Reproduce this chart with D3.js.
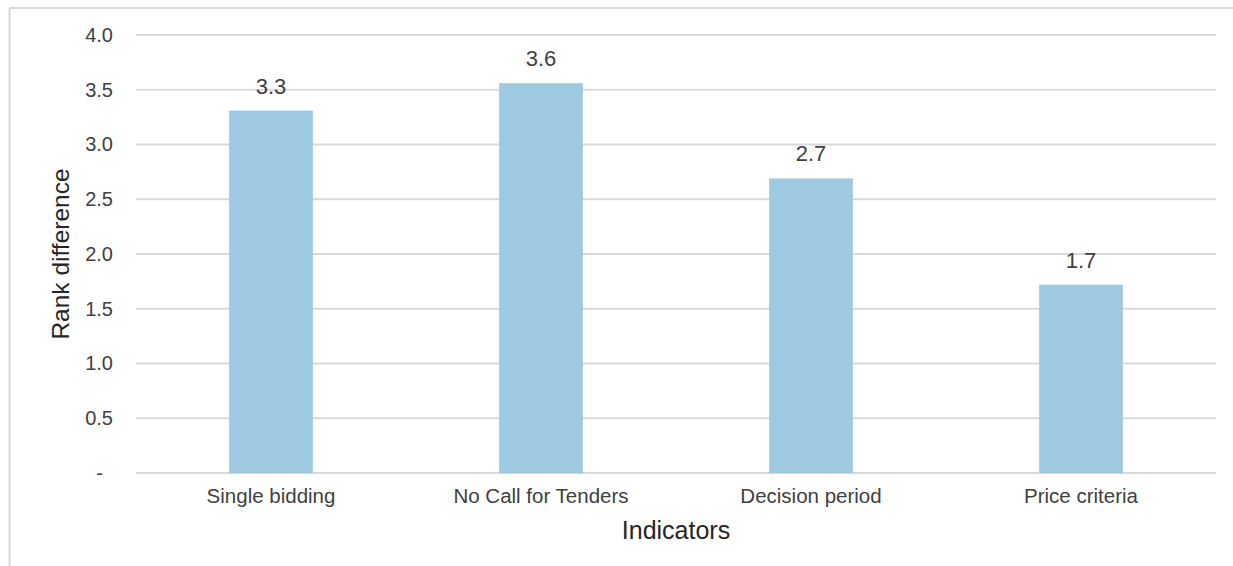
<!DOCTYPE html>
<html>
<head>
<meta charset="utf-8">
<script src="https://cdn.jsdelivr.net/npm/d3@7"></script>
<style>
  html, body { margin: 0; padding: 0; background: #fff; }
  svg { display: block; font-family: "Liberation Sans", Arial, sans-serif; }
</style>
</head>
<body>
<svg id="chart" width="1233" height="566"></svg>
<script>
// Indicators and their rank differences
const categories = ["Single bidding", "No Call for Tenders", "Decision period", "Price criteria"];
const values = [3.31, 3.56, 2.69, 1.72];
const yTicks = [0, 0.5, 1.0, 1.5, 2.0, 2.5, 3.0, 3.5, 4.0];
const yTickLabels = ["-", "0.5", "1.0", "1.5", "2.0", "2.5", "3.0", "3.5", "4.0"];
const xTitle = "Indicators";
const yTitle = "Rank difference";

const svg = d3.select("#chart");
const W = 1233, H = 566;
const margin = { left: 136, right: 17, top: 35, bottom: 93 };

// chart area frame (top and left edges visible)
svg.append("line").attr("x1", 9.5).attr("x2", W).attr("y1", 8).attr("y2", 8)
  .attr("stroke", "#d9d9d9").attr("stroke-width", 2);
svg.append("line").attr("x1", 9.5).attr("x2", 9.5).attr("y1", 8).attr("y2", H)
  .attr("stroke", "#d9d9d9").attr("stroke-width", 2);

const x = d3.scaleBand()
  .domain(categories)
  .range([margin.left, W - margin.right])
  .paddingInner(0.69)
  .paddingOuter(0.345);

const y = d3.scaleLinear()
  .domain([0, 4])
  .range([H - margin.bottom, margin.top]);

// horizontal gridlines
svg.append("g")
  .selectAll("line")
  .data(yTicks)
  .join("line")
  .attr("x1", margin.left)
  .attr("x2", W - margin.right)
  .attr("y1", d => y(d))
  .attr("y2", d => y(d))
  .attr("stroke", "#d9d9d9")
  .attr("stroke-width", 2);

// y axis labels
const yAxis = d3.axisLeft(y)
  .tickValues(yTicks)
  .tickSize(0)
  .tickPadding(0)
  .tickFormat((d, i) => yTickLabels[i]);
const gy = svg.append("g")
  .attr("transform", `translate(113,0)`)
  .call(yAxis);
gy.select(".domain").remove();
gy.selectAll("text")
  .attr("font-size", 20)
  .attr("font-family", "Liberation Sans, Arial, sans-serif")
  .attr("fill", "#404040")
  .attr("dx", (d, i) => yTickLabels[i] === "-" ? -10 : 0);

// bars
svg.append("g")
  .selectAll("rect")
  .data(values)
  .join("rect")
  .attr("x", (d, i) => x(categories[i]))
  .attr("width", x.bandwidth())
  .attr("y", d => y(d))
  .attr("height", d => y(0) - y(d))
  .attr("fill", "#9ecae1");

// value labels
const fmt = d3.format(".1f");
svg.append("g")
  .selectAll("text")
  .data(values)
  .join("text")
  .attr("x", (d, i) => x(categories[i]) + x.bandwidth() / 2)
  .attr("y", d => y(d) - 17)
  .attr("text-anchor", "middle")
  .attr("font-size", 22)
  .attr("fill", "#404040")
  .text(d => fmt(d));

// x axis category labels
const xAxis = d3.axisBottom(x).tickSize(0).tickPadding(0);
const gx = svg.append("g")
  .attr("transform", `translate(0,${y(0)})`)
  .call(xAxis);
gx.select(".domain").remove();
gx.selectAll("text")
  .attr("font-size", 20.5)
  .attr("font-family", "Liberation Sans, Arial, sans-serif")
  .attr("fill", "#404040")
  .attr("dy", null)
  .attr("y", 30);

// axis titles
svg.append("text")
  .attr("x", (margin.left + W - margin.right) / 2)
  .attr("y", 539)
  .attr("text-anchor", "middle")
  .attr("font-size", 25)
  .attr("fill", "#262626")
  .text(xTitle);

svg.append("text")
  .attr("transform", `translate(69,${(y(0) + y(4)) / 2}) rotate(-90)`)
  .attr("text-anchor", "middle")
  .attr("font-size", 24.5)
  .attr("fill", "#262626")
  .text(yTitle);
</script>
</body>
</html>
